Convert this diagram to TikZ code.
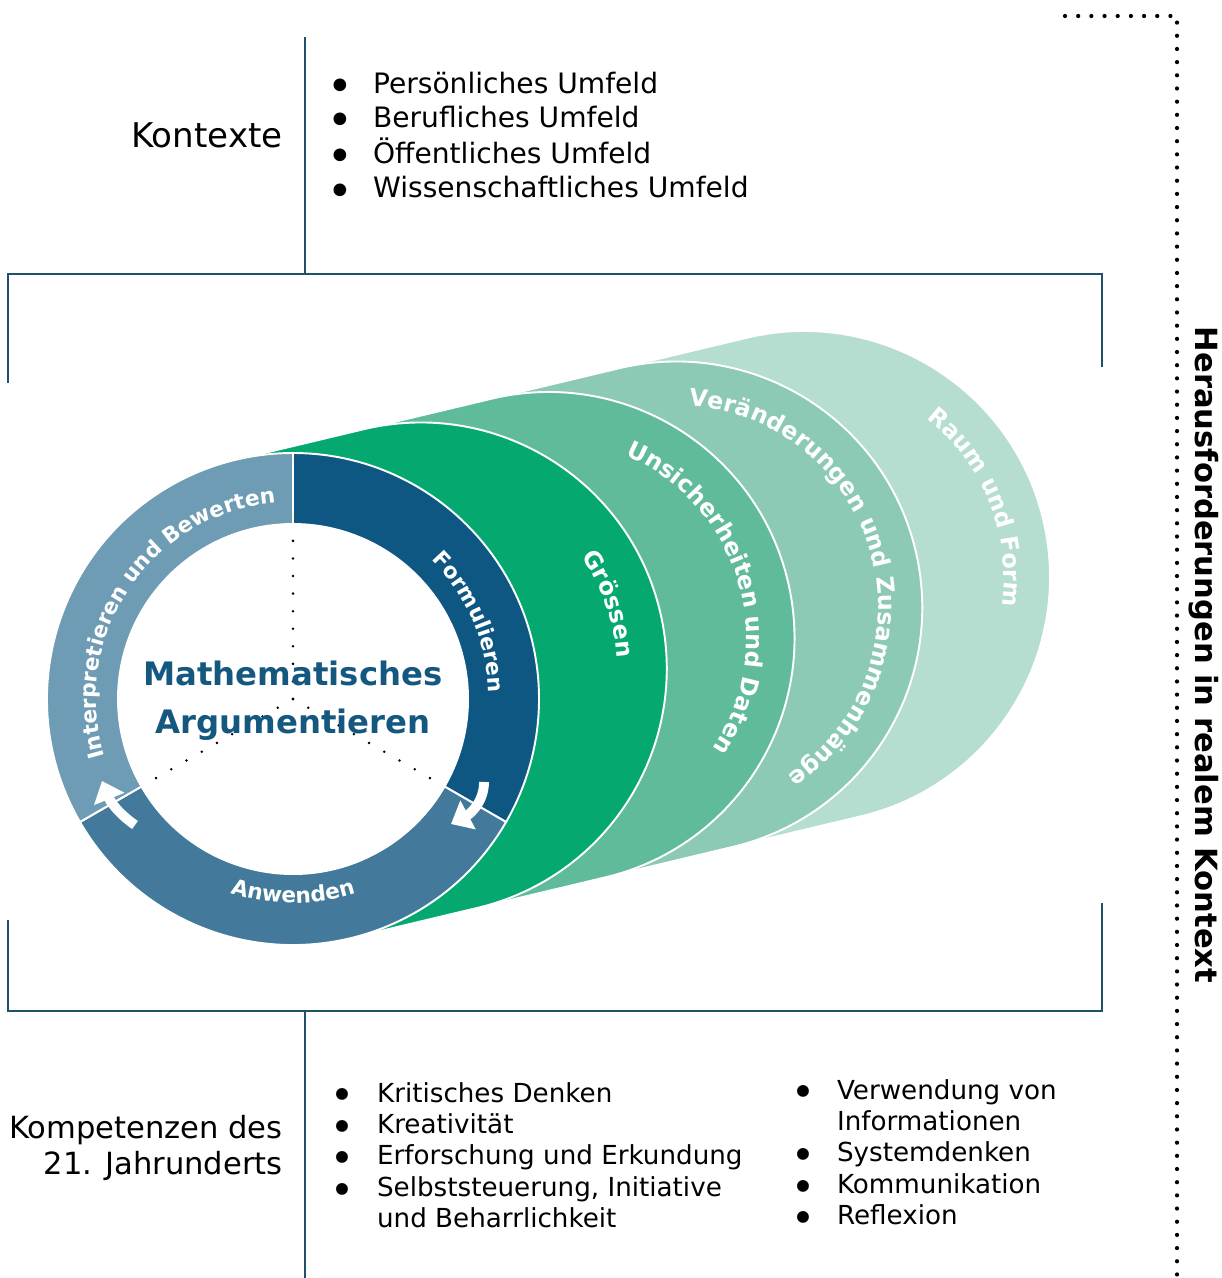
\documentclass[tikz,border=0pt]{standalone}
\usepackage{fontspec}
\setmainfont{DejaVu Sans}
\usetikzlibrary{calc,decorations.text,arrows.meta}

\definecolor{framecol}{HTML}{1F5168}
\definecolor{formcol}{HTML}{0F5783}
\definecolor{anwcol}{HTML}{437A9B}
\definecolor{intcol}{HTML}{6F9CB5}
\definecolor{groecol}{HTML}{05A970}
\definecolor{unscol}{HTML}{5FBB99}
\definecolor{vercol}{HTML}{8DCAB5}
\definecolor{raumcol}{HTML}{B5DDD0}
\definecolor{titlecol}{HTML}{14587F}

\newcommand\ringfont{\bfseries\fontsize{12.3}{14}\selectfont}
\newcommand\bandfont{\bfseries\fontsize{13.5}{16}\selectfont}
\newcommand\bul{\raisebox{-0.3em}{\scalebox{1.55}{•}}}

% one band of the cylinder: colour, back centre, front centre
\newcommand\band[3]{%
  \fill[#1,draw=white,line width=1.1pt] ($(#2)+(103.4:246)$) -- ($(#3)+(103.4:246)$)
    arc[start angle=103.4,end angle=-76.6,radius=246] -- ($(#2)+(-76.6:246)$)
    arc[start angle=-76.6,end angle=-256.6,radius=246] -- cycle;}

% one third of the ring: colour, start angle, end angle
\newcommand\sector[3]{%
  \fill[#1,draw=white,line width=1.1pt] ($(c0)+(#2:246)$)
    arc[start angle=#2,end angle=#3,radius=246] -- ($(c0)+(#3:175)$)
    arc[start angle=#3,end angle=#2,radius=175] -- cycle;}

% white text on an arc: centre, radius, from, to, text
\newcommand\arclabel[5]{%
  \path[decorate,decoration={text along path,text align=center,text color=white,
    text={#5}}] ($(#1)+(#3:#2)$) arc[start angle=#3,end angle=#4,radius=#2];}

\begin{document}
\begin{tikzpicture}[x=0.02cm,y=0.02cm]

\tikzstyle{frame}=[framecol,line width=1.4pt]
\tikzstyle{border}=[line width=2.4pt,line cap=round,dash pattern=on 0pt off 7.5pt]
\tikzstyle{spoke}=[line width=1.6pt,line cap=round,dash pattern=on 0pt off 10pt]
\tikzstyle{flow}=[white,line width=5.6pt,-{Triangle[length=11pt,width=18pt]}]
\tikzstyle{list}=[inner sep=0,anchor=base west]

\useasboundingbox (0,0) rectangle (1222,-1278);

\foreach \i in {0,...,4}
  \coordinate (c\i) at ({293+127.75*\i},{-699+30.5*\i});

% frame
\draw[frame] (305,-37) -- (305,-274);
\draw[frame] (8,-383) -- (8,-274) -- (1102,-274) -- (1102,-367);
\draw[frame] (8,-920) -- (8,-1011) -- (1102,-1011) -- (1102,-903);
\draw[frame] (305,-1011) -- (305,-1278);
\draw[border] (1065,-16) -- (1177,-16) -- (1177,-1278);

% content bands, back to front
\band{raumcol}{c3}{c4}
\band{vercol}{c2}{c3}
\band{unscol}{c1}{c2}
\band{groecol}{c0}{c1}

\arclabel{c4}{200}{62}{-18}{|\bandfont|Raum und Form}
\arclabel{c3}{202}{95}{-65}{|\bandfont|Veränderungen und Zusammenhänge}
\arclabel{c2}{198}{75}{-42}{|\bandfont|Unsicherheiten und Daten}
\arclabel{c1}{196}{50}{-12}{|\bandfont|Grössen}

% process ring
\sector{formcol}{90}{-30}
\sector{anwcol}{-30}{-150}
\sector{intcol}{210}{90}
\fill[white] (c0) circle[radius=175];

\arclabel{c0}{196}{58.5}{-11.5}{|\ringfont|Formulieren}
\arclabel{c0}{197}{206}{86}{|\ringfont|Interpretieren und Bewerten}
\arclabel{c0}{204}{240}{300}{|\ringfont|Anwenden}

\coordinate (fa) at (484,-782);
\coordinate (fb) at (451,-824);
\coordinate (ia) at (135,-825);
\coordinate (ib) at (102,-781);
\draw[flow] (fa) to[out=-90,in=28] (fb);
\draw[flow] (ia) to[out=145,in=-68] (ib);

\foreach \a in {90,-30,210}
  \draw[spoke] (c0) -- ($(c0)+(\a:175)$);

\node[align=center,text=titlecol,font=\bfseries\fontsize{18.4}{27.2}\selectfont]
  (title) at (293,-701) {Mathematisches\\Argumentieren};

% texts around the frame
\node[inner sep=0,anchor=base east,font=\fontsize{19.4}{23}\selectfont]
  (kontexte) at (283,-147) {Kontexte};
\node[list,font=\fontsize{16}{19.56}\selectfont] (ctxlist) at (326.7,-93)
  {\begin{tabular}[t]{@{}p{26.2pt}@{}l@{}}
   \bul&Persönliches Umfeld\\
   \bul&Berufliches Umfeld\\
   \bul&Öffentliches Umfeld\\
   \bul&Wissenschaftliches Umfeld
   \end{tabular}};

\node[inner sep=0,anchor=base east,font=\fontsize{17.4}{21}\selectfont]
  (kompetenzen) at (283,-1138)
  {\begin{tabular}[t]{@{}r@{}}Kompetenzen des\\21. Jahrunderts\end{tabular}};
\node[list,font=\fontsize{14.9}{17.9}\selectfont] (skillsa) at (330.2,-1102)
  {\begin{tabular}[t]{@{}p{26.5pt}@{}l@{}}
   \bul&Kritisches Denken\\
   \bul&Kreativität\\
   \bul&Erforschung und Erkundung\\
   \bul&Selbststeuerung, Initiative\\
    &und Beharrlichkeit
   \end{tabular}};
\node[list,font=\fontsize{14.9}{17.9}\selectfont] (skillsb) at (791.2,-1099)
  {\begin{tabular}[t]{@{}p{25.9pt}@{}l@{}}
   \bul&Verwendung von\\
    &Informationen\\
   \bul&Systemdenken\\
   \bul&Kommunikation\\
   \bul&Reflexion
   \end{tabular}};

\node[rotate=-90,font=\bfseries\fontsize{17.4}{21}\selectfont]
  (challenge) at (1204,-655) {Herausforderungen in realem Kontext};

\end{tikzpicture}
\end{document}
